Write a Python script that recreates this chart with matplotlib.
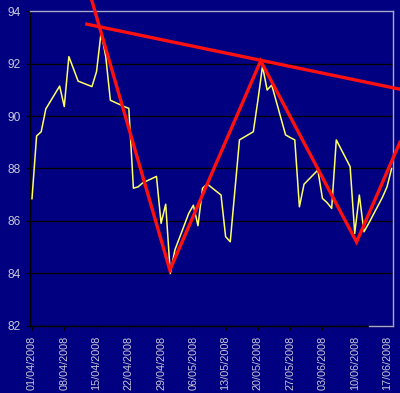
import matplotlib
matplotlib.use("Agg")
import matplotlib.pyplot as plt
import pandas as pd

# ---- data -------------------------------------------------------------
START = pd.Timestamp("2008-04-01")

DATES = [
    "2008-04-01", "2008-04-02", "2008-04-03", "2008-04-04", "2008-04-07",
    "2008-04-08", "2008-04-09", "2008-04-10", "2008-04-11", "2008-04-14",
    "2008-04-15", "2008-04-16", "2008-04-17", "2008-04-18", "2008-04-21",
    "2008-04-22", "2008-04-23", "2008-04-24", "2008-04-25", "2008-04-28",
    "2008-04-29", "2008-04-30", "2008-05-01", "2008-05-02", "2008-05-05",
    "2008-05-06", "2008-05-07", "2008-05-08", "2008-05-09", "2008-05-12",
    "2008-05-13", "2008-05-14", "2008-05-15", "2008-05-16", "2008-05-19",
    "2008-05-20", "2008-05-21", "2008-05-22", "2008-05-23", "2008-05-26",
    "2008-05-27", "2008-05-28", "2008-05-29", "2008-05-30", "2008-06-02",
    "2008-06-03", "2008-06-04", "2008-06-05", "2008-06-06", "2008-06-09",
    "2008-06-10", "2008-06-11", "2008-06-12", "2008-06-13", "2008-06-16",
    "2008-06-17", "2008-06-18",
]
PRICE = [
    86.85, 89.24, 89.40, 90.27, 91.14,
    90.36, 92.26, 91.80, 91.33, 91.12,
    91.69, 93.20, 92.26, 90.60, 90.36,
    90.29, 87.25, 87.30, 87.45, 87.70,
    85.91, 86.64, 84.00, 84.90, 86.29,
    86.60, 85.82, 87.25, 87.41, 86.99,
    85.40, 85.21, 87.15, 89.09, 89.40,
    90.60, 91.90, 90.99, 91.18, 89.28,
    89.18, 89.09, 86.54, 87.40, 87.94,
    86.86, 86.70, 86.48, 89.09, 88.07,
    85.53, 86.99, 85.59, 85.90, 86.90,
    87.30, 88.00,
]

# hand-drawn trend lines (day offset from START, value)
ZIGZAG_DAY = [12.95, 29.9, 49.6, 70.4, 79.8]
ZIGZAG_VAL = [94.42, 84.13, 92.10, 85.20, 89.00]
RESIST_DAY = [11.9, 79.8]
RESIST_VAL = [93.50, 91.02]

TICK_DAYS = list(range(0, 78, 7))
TICK_LABELS = [(START + pd.Timedelta(days=d)).strftime("%d/%m/%Y") for d in TICK_DAYS]
Y_TICKS = [82, 84, 86, 88, 90, 92, 94]

# ---- style ------------------------------------------------------------
plt.rcParams["font.family"] = ["Liberation Sans", "DejaVu Sans"]
NAVY = "#000080"
TXT = "#c8c8d8"

fig = plt.figure(figsize=(4.0, 3.93), dpi=100, facecolor=NAVY)
ax = fig.add_axes([0.075, 0.1705, 0.9075, 0.8015])
ax.set_facecolor(NAVY)

x = (pd.to_datetime(DATES) - START).days

ax.set_yticks(Y_TICKS)
ax.yaxis.grid(True, color="#000000", linewidth=0.9)
ax.set_axisbelow(True)

ax.plot(x, PRICE, color="#ffff66", linewidth=1.1, zorder=3)

ax.plot(ZIGZAG_DAY, ZIGZAG_VAL, color="#ff1010", linewidth=2.4,
        solid_joinstyle="miter", clip_on=False, zorder=4)
ax.plot(RESIST_DAY, RESIST_VAL, color="#ff1010", linewidth=2.4,
        clip_on=False, zorder=4)

ax.set_xlim(-0.43, 78.3)
ax.set_ylim(82, 94)
ax.set_xticks(TICK_DAYS)
ax.set_xticklabels(TICK_LABELS, rotation=90, fontsize=7.8, color=TXT)
ax.set_yticklabels([str(v) for v in Y_TICKS], fontsize=8.6, color=TXT)
ax.tick_params(axis="x", length=3, color="#000000", pad=4)
ax.tick_params(axis="y", length=3, color="#000000", pad=3.5)

for side in ("left", "bottom"):
    ax.spines[side].set_color("#000000")
    ax.spines[side].set_linewidth(1.0)
for side in ("top", "right"):
    ax.spines[side].set_color("#a8a8d0")
    ax.spines[side].set_linewidth(1.0)

# little grey border stub at the bottom right of the plot area
ax.plot([0.935, 1.0], [0.0, 0.0], color="#a8a8d0", linewidth=1.0,
        transform=ax.transAxes, clip_on=False, zorder=5)

fig.savefig("out.png", dpi=100, facecolor=NAVY)
